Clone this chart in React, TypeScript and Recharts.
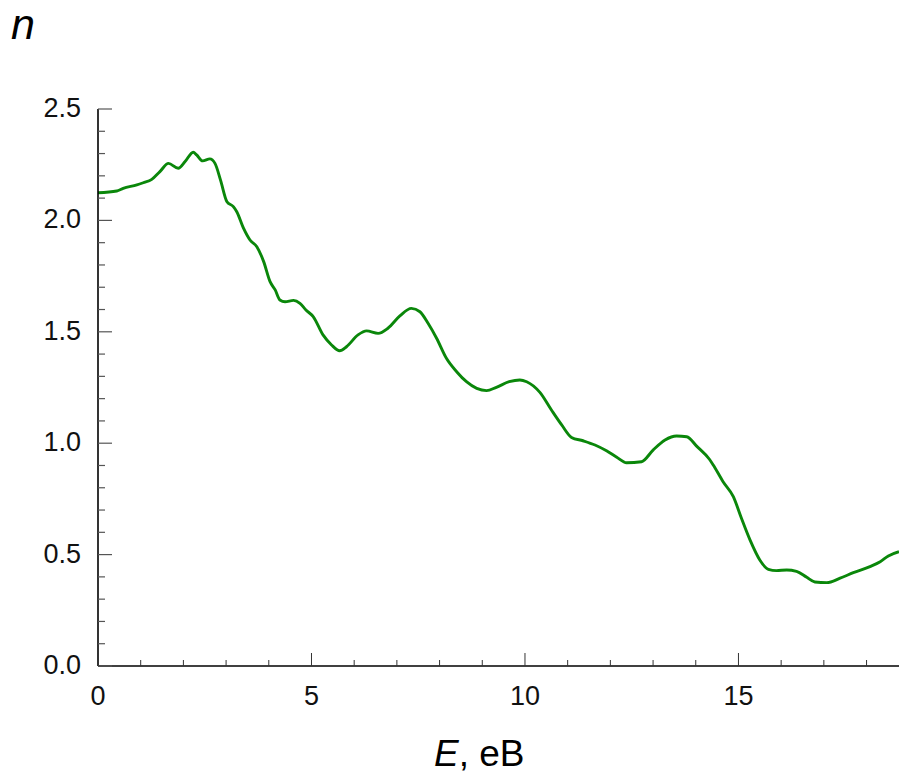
import React from 'react';
import { LineChart, Line, XAxis, YAxis } from 'recharts';

// Photon energy, eV
const energy = [
  0, 0.44, 0.59, 0.91, 1.06, 1.26, 1.45, 1.65, 1.88, 2.04, 2.23, 2.31, 2.45, 2.62, 2.74,
  2.87, 3.02, 3.17, 3.25, 3.41, 3.56, 3.72, 3.88, 4.03, 4.15, 4.26, 4.38, 4.58, 4.73,
  4.87, 5.04, 5.27, 5.47, 5.66, 5.82, 6.09, 6.29, 6.56, 6.79, 7.07, 7.34, 7.54, 7.73,
  7.93, 8.16, 8.4, 8.63, 8.87, 9.1, 9.33, 9.63, 9.88, 10.04, 10.35, 10.62, 10.86, 11.09,
  11.36, 11.64, 11.91, 12.15, 12.38, 12.73, 13.0, 13.28, 13.55, 13.79, 14.02, 14.32,
  14.41, 14.64, 14.88, 15.07, 15.27, 15.5, 15.7, 15.89, 16.13, 16.36, 16.6, 16.79, 17.07,
  17.38, 17.69, 18.08, 18.32, 18.51, 18.76,
];

// Refractive index n
const refractiveIndex = [
  2.124, 2.132, 2.144, 2.159, 2.169, 2.184, 2.219, 2.256, 2.234, 2.264, 2.306, 2.294, 2.267,
  2.276, 2.256, 2.181, 2.084, 2.062, 2.039, 1.964, 1.912, 1.882, 1.815, 1.725, 1.688,
  1.643, 1.635, 1.641, 1.628, 1.598, 1.568, 1.486, 1.441, 1.415, 1.433, 1.486, 1.504,
  1.493, 1.516, 1.571, 1.605, 1.59, 1.538, 1.471, 1.381, 1.321, 1.276, 1.246, 1.236,
  1.251, 1.276, 1.284, 1.276, 1.228, 1.149, 1.082, 1.026, 1.011, 0.992, 0.966, 0.937,
  0.912, 0.917, 0.969, 1.014, 1.032, 1.029, 0.987, 0.928, 0.902, 0.827, 0.76, 0.663,
  0.566, 0.476, 0.434, 0.428, 0.431, 0.425, 0.398, 0.377, 0.374, 0.394, 0.419, 0.446,
  0.468, 0.494, 0.513,
];

const xTicks = [0, 1, 2, 3, 4, 5, 6, 7, 8, 9, 10, 11, 12, 13, 14, 15, 16, 17, 18];
const xLabeled = [0, 5, 10, 15];
const yTicks = [
  0, 0.1, 0.2, 0.3, 0.4, 0.5, 0.6, 0.7, 0.8, 0.9, 1.0, 1.1, 1.2, 1.3, 1.4, 1.5, 1.6, 1.7,
  1.8, 1.9, 2.0, 2.1, 2.2, 2.3, 2.4, 2.5,
];
const yLabeled = ['0.0', '0.5', '1.0', '1.5', '2.0', '2.5'];

const data = energy.map((e, i) => ({ E: e, n: refractiveIndex[i] }));

const FONT = '"Liberation Sans", Arial, sans-serif';

const XTick = (props: any) => {
  const { x, y, payload } = props;
  const major = xLabeled.includes(payload.value);
  return (
    <g>
      <line x1={x} x2={x} y1={y} y2={y - (major ? 13 : 6)} stroke="#333" strokeWidth={1} />
      {major && (
        <text x={x} y={y + 39} textAnchor="middle" fontFamily={FONT} fontSize={27} fill="#111">
          {payload.value}
        </text>
      )}
    </g>
  );
};

const TopTick = (props: any) => {
  const { x, y } = props;
  return <line x1={x} x2={x} y1={y} y2={y + 2} stroke="#333" strokeWidth={1} />;
};

const YTick = (props: any) => {
  const { x, y, payload } = props;
  const label = payload.value.toFixed(1);
  const major = yLabeled.includes(label);
  return (
    <g>
      <line x1={x} x2={x + (major ? 14 : 7)} y1={y} y2={y} stroke="#555" strokeWidth={1.2} />
      {major && (
        <text x={x - 17} y={y + 8} textAnchor="end" fontFamily={FONT} fontSize={27} fill="#111">
          {label}
        </text>
      )}
    </g>
  );
};

export default function App() {
  return (
    <div style={{ position: 'absolute', left: 0, top: 0, width: 899, height: 776, background: '#fff' }}>
      <LineChart
        width={899}
        height={776}
        data={data}
        margin={{ top: 109, right: 0, bottom: 0, left: 0 }}
      >
        <XAxis
          dataKey="E"
          type="number"
          domain={[0, 18.76]}
          allowDataOverflow
          ticks={xTicks}
          interval={0}
          height={110}
          tickSize={0}
          tickMargin={0}
          tickLine={false}
          tick={<XTick />}
          axisLine={{ stroke: '#000', strokeWidth: 1.6 }}
        />
        <XAxis
          xAxisId="top"
          orientation="top"
          dataKey="E"
          type="number"
          domain={[0, 18.76]}
          allowDataOverflow
          ticks={xTicks}
          interval={0}
          height={0}
          tickSize={0}
          tickMargin={0}
          tickLine={false}
          tick={<TopTick />}
          axisLine={{ stroke: '#000', strokeWidth: 1.6 }}
        />
        <YAxis
          type="number"
          domain={[0, 2.5]}
          ticks={yTicks}
          interval={0}
          width={98}
          tickSize={0}
          tickMargin={0}
          tickLine={false}
          tick={<YTick />}
          axisLine={{ stroke: '#000', strokeWidth: 1.6 }}
        />
        <Line
          dataKey="n"
          type="monotone"
          stroke="#0a870a"
          strokeWidth={2.9}
          dot={false}
          isAnimationActive={false}
        />
      </LineChart>
      <svg
        width={899}
        height={776}
        style={{ position: 'absolute', left: 0, top: 0, pointerEvents: 'none' }}
      >
        <text x={11} y={39} fontFamily={FONT} fontSize={43} fontStyle="italic" fill="#000">
          n
        </text>
        <text x={434} y={766} fontFamily={FONT} fontSize={37} fill="#000">
          <tspan fontStyle="italic">E</tspan>
          <tspan>, eB</tspan>
        </text>
      </svg>
    </div>
  );
}
